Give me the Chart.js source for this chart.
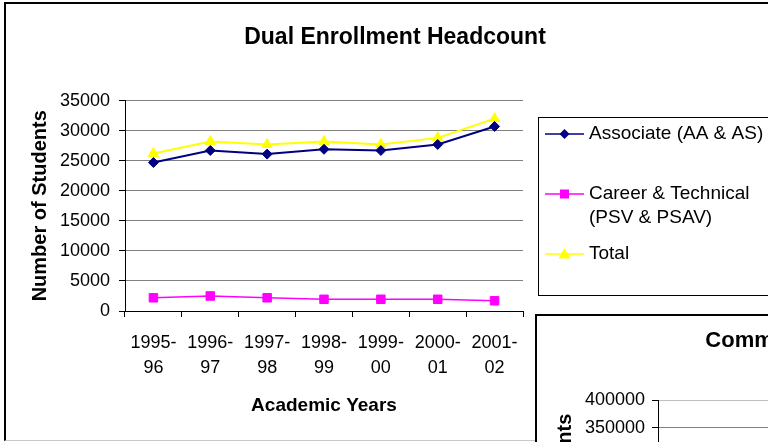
<!DOCTYPE html>
<html>
<head>
<meta charset="utf-8">
<script src="https://cdn.jsdelivr.net/npm/chart.js@4/dist/chart.umd.min.js"></script>
<style>
  html, body { margin: 0; padding: 0; background: #fff; overflow: hidden; }
  #wrap { position: relative; width: 768px; height: 442px; overflow: hidden; }
  #frame { position: absolute; left: 4px; top: 2px; width: 900px; height: 436px;
           border-left: 2px solid #000; border-top: 2px solid #000; border-bottom: 1px solid #c8c8c8; }
  #main { position: absolute; left: 0; top: 0; }
  #commBox { position: absolute; left: 535px; top: 314px; width: 300px; height: 200px; overflow: hidden;
             background: #fff; border-left: 2px solid #000; border-top: 2px solid #000; }
  #comm { position: absolute; left: 0; top: 0; }
</style>
</head>
<body>
<div id="wrap">
  <div id="frame"></div>
  <canvas id="main" width="768" height="442"></canvas>
  <div id="commBox"><canvas id="comm" width="663" height="360"></canvas></div>
</div>
<script>
const years = [['1995-', '96'], ['1996-', '97'], ['1997-', '98'], ['1998-', '99'], ['1999-', '00'], ['2000-', '01'], ['2001-', '02']];
const associate = [24700, 26700, 26100, 26900, 26700, 27700, 30700];
const career = [2200, 2500, 2200, 1950, 1950, 1950, 1700];
const total = [26200, 28200, 27700, 28200, 27700, 28800, 32000];
const yMax = 35000;
const yStep = 5000;

const commMax = 400000;
const commStep = 50000;

const FONT = "'Liberation Sans', Arial, sans-serif";
Chart.defaults.font.family = FONT;
Chart.defaults.color = '#000';

const plainNumber = v => String(v);

function drawMarker(ctx, style, x, y, color) {
  ctx.fillStyle = color;
  ctx.beginPath();
  if (style === 'rectRot') {
    ctx.moveTo(x, y - 5); ctx.lineTo(x + 5, y); ctx.lineTo(x, y + 5); ctx.lineTo(x - 5, y);
  } else if (style === 'rect') {
    ctx.rect(x - 4.5, y - 4.5, 9, 9);
  } else {
    ctx.moveTo(x, y - 6); ctx.lineTo(x + 6, y + 4.5); ctx.lineTo(x - 6, y + 4.5);
  }
  ctx.closePath();
  ctx.fill();
}

// boxed legend on the right, like the spreadsheet one
const boxLegend = {
  id: 'boxLegend',
  afterDraw(chart) {
    const ctx = chart.ctx;
    ctx.save();
    ctx.strokeStyle = '#000';
    ctx.lineWidth = 1;
    ctx.strokeRect(538.5, 117.5, 300, 178);
    ctx.font = '19px ' + FONT;
    ctx.textBaseline = 'middle';
    const rows = [134, 194, 254];
    chart.data.datasets.forEach((ds, i) => {
      const y = rows[i];
      ctx.strokeStyle = ds.borderColor;
      ctx.lineWidth = 1.5;
      ctx.beginPath();
      ctx.moveTo(545, y);
      ctx.lineTo(584, y);
      ctx.stroke();
      drawMarker(ctx, ds.pointStyle, 564.5, y, ds.borderColor);
      // wrap label text
      const words = ds.label.split(' ');
      const lines = [];
      let cur = '';
      words.forEach(w => {
        const t = cur ? cur + ' ' + w : w;
        if (ctx.measureText(t).width > 180 && cur) { lines.push(cur); cur = w; } else cur = t;
      });
      lines.push(cur);
      ctx.fillStyle = '#000';
      lines.forEach((l, j) => ctx.fillText(l, 589, y + j * 24));
    });
    ctx.restore();
  }
};

new Chart(document.getElementById('main'), {
  type: 'line',
  data: {
    labels: years,
    datasets: [
      {
        label: 'Associate (AA & AS)',
        data: associate,
        borderColor: '#000080',
        backgroundColor: '#000080',
        borderWidth: 2,
        pointStyle: 'rectRot',
        pointRadius: 5,
        pointBorderWidth: 1
      },
      {
        label: 'Career & Technical (PSV & PSAV)',
        data: career,
        borderColor: '#ff00ff',
        backgroundColor: '#ff00ff',
        borderWidth: 1.5,
        pointStyle: 'rect',
        pointRadius: 6,
        pointBorderWidth: 1
      },
      {
        label: 'Total',
        data: total,
        borderColor: '#ffff00',
        backgroundColor: '#ffff00',
        borderWidth: 2,
        pointStyle: 'triangle',
        pointRadius: 6,
        pointBorderWidth: 1
      }
    ]
  },
  options: {
    responsive: false,
    animation: false,
    layout: { padding: { left: 22 } },
    plugins: {
      legend: { display: false },
      tooltip: { enabled: false },
      title: {
        display: true,
        text: 'Dual Enrollment Headcount',
        color: '#000',
        font: { size: 23, weight: 'bold' },
        padding: { top: 24, bottom: 49 }
      }
    },
    scales: {
      x: {
        offset: true,
        grid: { drawOnChartArea: false, drawTicks: true, tickLength: 6, tickColor: '#000', offset: true },
        border: { color: '#000' },
        ticks: { font: { size: 18, lineHeight: 1.4 }, color: '#000', padding: 13, maxRotation: 0, autoSkip: false },
        title: { display: true, text: 'Academic Years', color: '#000', font: { size: 19, weight: 'bold' }, padding: { top: 0, bottom: 25 } },
        afterFit(s) { s.height = 131; }
      },
      y: {
        min: 0,
        max: yMax,
        ticks: { stepSize: yStep, font: { size: 18 }, color: '#000', padding: 9, callback: plainNumber },
        grid: { color: '#808080', tickColor: '#000', tickLength: 6 },
        border: { color: '#000' },
        title: { display: true, text: 'Number of Students', color: '#000', font: { size: 20, weight: 'bold' }, padding: { top: 6 } },
        afterFit(s) { s.width = 103; }
      },
      pad: {
        type: 'linear',
        position: 'right',
        grid: { display: false },
        border: { display: false },
        ticks: { display: false },
        afterFit(s) { s.width = 245; }
      }
    }
  },
  plugins: [boxLegend]
});

// second chart, only its top-left corner shows
new Chart(document.getElementById('comm'), {
  type: 'line',
  data: { labels: years, datasets: [] },
  options: {
    responsive: false,
    animation: false,
    plugins: {
      legend: { display: false },
      tooltip: { enabled: false },
      title: {
        display: true,
        text: 'Community College Headcount',
        color: '#000',
        font: { size: 22, weight: 'bold' },
        padding: { top: 12, bottom: 46 }
      }
    },
    scales: {
      x: {
        offset: true,
        grid: { drawOnChartArea: false, tickColor: '#000', tickLength: 6 },
        border: { color: '#000' },
        ticks: { font: { size: 18 }, maxRotation: 0 },
        afterFit(s) { s.height = 58; }
      },
      y: {
        min: 0,
        max: commMax,
        ticks: { stepSize: commStep, font: { size: 18 }, color: '#000', padding: 7, callback: plainNumber },
        grid: { color: ctx => ctx.tick && ctx.tick.value === commMax ? '#c0c0c0' : '#808080', tickColor: '#000', tickLength: 6 },
        border: { color: '#000' },
        title: { display: true, text: 'Number of Students', color: '#000', font: { size: 20, weight: 'bold' }, padding: { top: 16 } },
        afterFit(s) { s.width = 121; }
      }
    }
  }
});
</script>
</body>
</html>
